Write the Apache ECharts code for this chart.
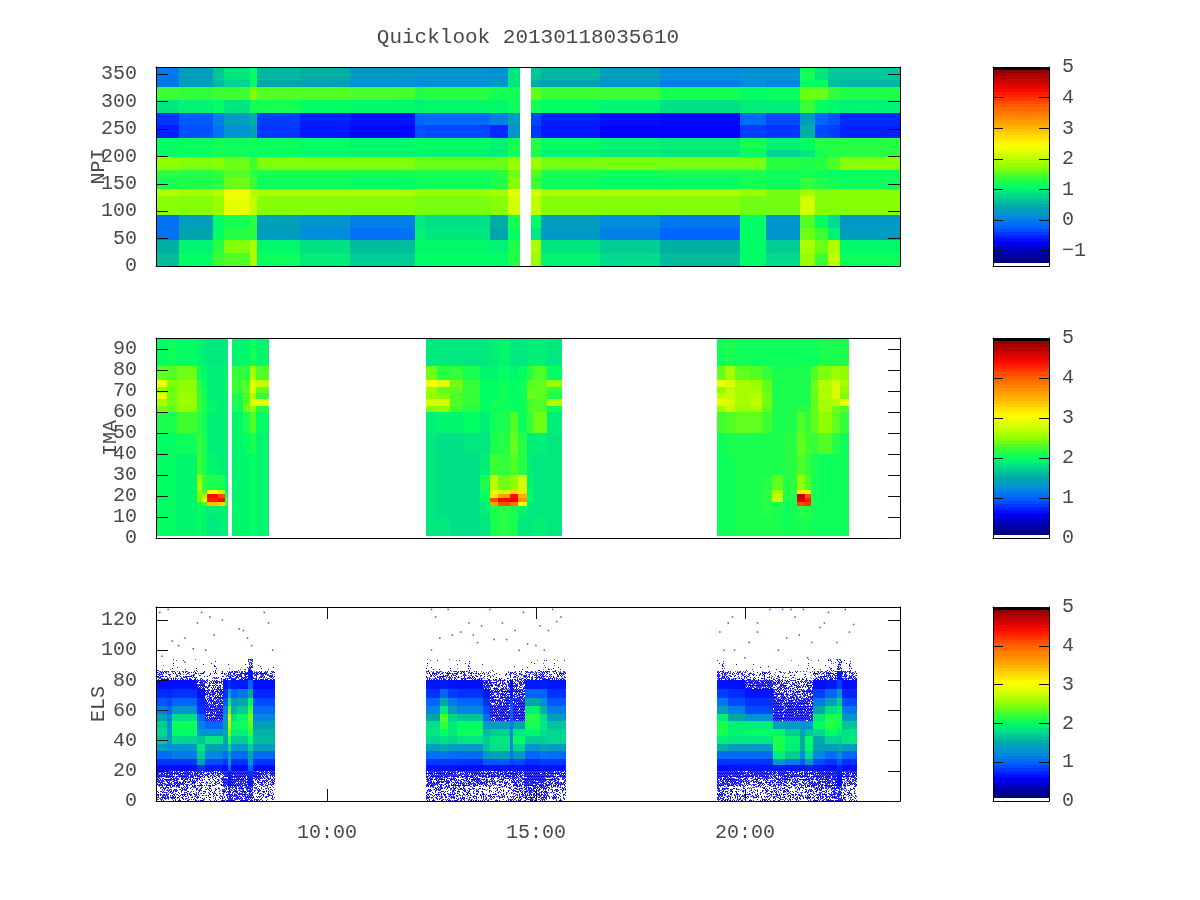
<!DOCTYPE html>
<html><head><meta charset="utf-8"><style>html,body{margin:0;background:#fff}#c{width:1200px;height:900px}</style>
<script src="https://cdn.jsdelivr.net/npm/echarts@6/dist/echarts.min.js"></script></head><body><div id="c"></div>
<script>
const titleText = 'Quicklook 20130118035610';
const timeTicks = [10, 15, 20];
const npiTicks = [0,50,100,150,200,250,300,350];
const imaTicks = [0,10,20,30,40,50,60,70,80,90];
const elsTicks = [0,20,40,60,80,100,120];
const barTicks1 = [-1,0,1,2,3,4,5];
const barTicks = [0,1,2,3,4,5];
const timeRange = [5.91, 23.71];

// NPI: time windows (hours), band edges, values by band bottom to top
const npiWindows = [[5.91,6.46,7.27,7.54,8.16,8.33,9.35,10.55,12.11,12.34,13.90,14.33,14.62],[14.88,15.12,16.53,17.97,19.88,20.50,21.32,21.67,21.99,22.27,23.71]];
const npiEdges = [0,24,47,70,93,128,140,163,175,199,211,234,257,279,303,326,339,363];
const npiValues = [
[.6,1.1,1.4,1.5,1.9,1.15,.95,.7,1.1,1.1,1.1,1.3,1.8,1.0,.8,.6,1.1,.8,1.8,1.4,2.0,1.15],
[.5,1.0,1.3,1.7,1.9,1.05,.85,.6,1.05,1.05,1.0,1.25,1.9,.9,.7,.5,1.1,.7,1.9,1.6,1.9,1.05],
[-.1,.4,1.1,1.3,1.3,.3,.1,-.1,1.0,.9,.4,1.1,.9,.25,.0,-.2,1.1,.2,1.6,1.4,1.0,.3],
[-.1,.3,1.1,1.2,1.3,.35,.2,.0,.95,.85,.5,1.2,1.1,.3,.1,-.05,1.1,.2,1.5,1.1,.8,.25],
[1.72,1.7,1.8,2.3,2.05,1.7,1.7,1.7,1.65,1.65,1.7,2.15,2.0,1.7,1.7,1.7,1.62,1.62,2.15,1.7,1.7,1.7],
[1.95,1.85,1.95,2.35,1.95,1.9,1.9,1.9,1.8,1.8,1.85,2.25,2.15,1.9,1.9,1.9,1.8,1.65,1.85,1.7,1.72,1.72],
[1.2,1.25,1.3,1.6,1.4,1.15,1.15,1.1,1.15,1.15,1.25,1.7,1.4,1.15,1.1,1.1,1.2,1.15,1.35,1.25,1.2,1.15],
[1.35,1.3,1.35,1.5,1.3,1.25,1.25,1.25,1.25,1.25,1.3,1.6,1.5,1.25,1.2,1.25,1.25,1.15,1.2,1.15,1.1,1.15],
[1.75,1.68,1.72,1.6,1.4,1.68,1.68,1.68,1.6,1.6,1.6,1.8,1.8,1.65,1.65,1.65,1.65,1.3,1.25,1.3,1.5,1.72],
[1.1,1.1,1.2,1.2,1.1,1.1,1.05,1.0,1.05,1.0,.95,1.2,1.2,1.0,.95,.9,1.1,.75,.9,1.2,1.3,1.3],
[1.1,1.15,1.2,1.15,1.2,1.15,1.1,1.05,1.1,1.1,1.0,1.2,1.3,1.1,1.0,.95,1.2,1.0,1.1,1.3,1.3,1.3],
[-.55,-.3,-.1,.2,.4,-.45,-.6,-.68,-.3,-.35,-.5,.2,-.45,-.6,-.72,-.72,-.4,-.45,.5,-.35,-.4,-.55],
[-.45,-.25,.0,.3,.5,-.4,-.55,-.62,-.2,-.15,.0,.3,-.35,-.55,-.65,-.68,-.15,-.35,.3,-.2,-.3,-.5],
[.9,1.0,1.1,.9,1.2,1.2,1.1,1.05,1.0,1.05,1.05,1.15,1.2,1.1,1.0,.85,.95,.95,1.4,1.1,1.05,1.0],
[1.4,1.35,1.4,1.4,1.7,1.5,1.5,1.45,1.25,1.3,1.2,1.2,1.55,1.4,1.4,1.2,1.1,1.15,1.6,1.6,1.35,1.25],
[-.05,.3,.6,.75,1.1,.45,.35,.15,.1,.15,.25,.9,.5,.4,.2,.0,.1,.05,1.1,1.1,.6,.55],
[-.05,.3,.65,.9,1.1,.55,.5,.25,.2,.2,.15,.9,.65,.55,.3,.1,.15,.15,1.2,.9,.65,.65]
];

// IMA
const imaWindows = [[5.91,6.17,6.41,6.89,7.01,7.13,7.39,7.56,7.63],[7.73,7.99,8.16,8.30,8.61],[12.37,12.63,12.94,13.25,13.66,13.90,14.09,14.38,14.57,14.78,14.93,15.26,15.62],[19.33,19.52,19.76,20.12,20.41,20.65,20.91,21.24,21.44,21.58,21.75,22.08,22.27,22.49]];
const imaEdges = [0.8,10,15,17,19,21,23,30,40,50,60,63,66,69,72,75,82,95.2];
const imaValues = [
[2.0,2.0,1.95,2.0,1.95,1.85,1.9,1.95, 1.95,1.95,2.0,1.95, 1.85,1.85,1.8,1.8,1.85,2.1,2.15,2.1,1.85,1.85,1.9,1.85, 2.05,2.05,2.1,2.1,2.1,2.1,2.05,2.1,2.1,2.05,2.05,2.05,2.05],
[2.0,2.0,1.95,2.0,1.95,1.9,1.9,1.95, 1.95,1.95,2.0,1.95, 1.85,1.8,1.8,1.8,1.9,2.1,2.15,2.1,1.95,1.85,1.85,1.85, 2.05,2.05,2.1,2.1,2.15,2.1,2.05,2.15,2.15,2.05,2.05,2.05,2.05],
[2.0,2.0,1.95,2.1,2.2,3.4,3.3,2.2, 1.95,1.95,2.0,1.95, 1.85,1.8,1.8,1.8,1.9,3.6,4.1,3.9,3.1,1.9,1.85,1.85, 2.05,2.05,2.1,2.1,2.15,2.1,2.05,4.1,4.2,2.1,2.05,2.05,2.05],
[2.0,2.0,1.95,2.4,2.9,4.3,4.4,2.2, 1.95,1.95,2.0,1.95, 1.85,1.8,1.8,1.8,2.0,4.1,4.4,4.5,3.7,2.0,1.85,1.85, 2.05,2.05,2.1,2.1,2.2,2.75,2.1,4.6,4.3,2.1,2.05,2.05,2.05],
[2.0,2.0,1.95,2.5,2.6,4.4,4.1,2.1, 1.95,1.95,2.0,1.95, 1.85,1.8,1.8,1.8,2.0,3.2,3.6,4.4,3.5,2.0,1.85,1.85, 2.05,2.05,2.1,2.1,2.2,2.7,2.1,4.7,4.1,2.1,2.05,2.05,2.05],
[2.0,2.0,1.95,2.5,2.3,3.0,2.7,2.0, 1.95,1.95,2.0,1.95, 1.85,1.8,1.8,1.8,2.05,2.9,2.8,3.3,3.2,1.95,1.85,1.85, 2.05,2.05,2.1,2.1,2.2,2.6,2.15,3.2,2.9,2.1,2.05,2.05,2.05],
[2.0,2.0,1.95,2.6,2.2,2.1,2.1,1.95, 1.95,1.95,2.0,1.95, 1.85,1.8,1.8,1.8,2.1,2.7,2.4,2.5,2.8,1.95,1.85,1.85, 2.05,2.05,2.1,2.1,2.15,2.35,2.15,2.5,2.3,2.1,2.05,2.05,2.05],
[2.0,2.0,1.95,2.25,2.1,1.95,1.9,1.9, 1.95,1.95,2.0,1.95, 1.85,1.8,1.8,1.8,1.9,2.25,2.2,2.3,2.15,1.9,1.85,1.85, 2.05,2.05,2.1,2.1,2.1,2.1,2.15,2.3,2.2,2.1,2.05,2.05,2.05],
[2.0,2.0,2.05,2.2,2.1,1.9,1.9,1.95, 1.95,2.0,2.1,1.95, 1.85,1.8,1.8,1.85,1.85,2.1,2.15,2.35,2.15,1.9,1.9,1.85, 2.05,2.1,2.1,2.1,2.1,2.1,2.15,2.35,2.25,2.2,2.3,2.15,2.05],
[2.1,2.1,2.25,2.15,2.05,1.9,1.9,1.95, 1.95,2.1,2.3,2.0, 1.9,1.95,1.95,2.0,1.9,2.05,2.1,2.3,2.05,2.2,2.4,1.9, 2.25,2.3,2.35,2.35,2.25,2.1,2.1,2.3,2.2,2.35,2.5,2.35,2.2],
[2.4,2.35,2.5,2.2,2.1,1.95,1.9,1.95, 2.05,2.4,2.5,2.15, 2.45,2.5,2.25,2.15,2.0,2.05,2.05,2.05,2.05,2.3,2.3,2.05, 2.55,2.75,2.55,2.6,2.35,2.1,2.1,2.15,2.15,2.35,2.6,2.4,2.3],
[2.6,2.4,2.55,2.2,2.1,1.95,1.9,1.95, 2.1,2.3,2.85,2.9, 2.8,2.8,2.3,2.2,2.0,2.05,2.05,2.0,2.05,2.25,2.3,2.65, 2.9,2.8,2.6,2.7,2.4,2.1,2.1,2.1,2.1,2.35,2.6,2.65,2.95],
[2.95,2.4,2.55,2.2,2.05,1.9,1.9,1.95, 2.1,2.3,2.65,2.2, 2.5,2.45,2.3,2.2,2.0,2.0,2.05,2.0,2.05,2.4,2.35,2.1, 2.7,2.75,2.6,2.65,2.4,2.1,2.1,2.1,2.1,2.35,2.65,2.85,2.45],
[2.5,2.4,2.5,2.2,2.05,1.9,1.9,1.95, 2.2,2.35,2.85,2.35, 2.55,2.35,2.35,2.2,2.0,2.0,2.05,2.0,2.05,2.35,2.35,2.2, 2.5,2.7,2.6,2.6,2.35,2.1,2.1,2.1,2.1,2.4,2.6,2.85,2.5],
[2.95,2.45,2.5,2.15,2.0,1.9,1.9,1.95, 2.25,2.3,2.9,2.75, 2.95,2.85,2.4,2.2,2.0,2.0,2.05,2.0,2.05,2.3,2.35,2.55, 2.95,2.85,2.6,2.55,2.35,2.1,2.1,2.1,2.1,2.4,2.65,2.8,2.6],
[2.35,2.3,2.4,2.05,1.95,1.9,1.9,1.95, 2.2,2.15,2.6,2.3, 2.4,2.15,2.2,2.1,1.95,1.95,2.0,1.95,2.0,2.15,2.3,2.0, 2.35,2.6,2.35,2.3,2.2,2.1,2.1,2.1,2.1,2.3,2.45,2.55,2.5],
[2.0,2.05,2.0,1.95,1.9,1.85,1.85,1.9, 1.95,1.95,2.05,1.95, 1.85,1.85,1.85,1.85,1.85,1.9,1.95,1.85,1.85,1.9,1.9,1.85, 2.05,2.1,2.05,2.05,2.05,2.05,2.05,2.05,2.05,2.05,2.1,2.1,2.1]
];

// ELS: positive = colour value; negative = fraction of the cell covered by scattered faint counts
const elsWindows = [[5.91,6.17,6.29,6.89,7.08,7.51,7.63,7.70,7.85,8.11,8.23,8.76],[12.37,12.70,12.89,13.11,13.73,13.90,14.38,14.45,14.74,15.10,15.26,15.72],[19.33,19.59,20.00,20.67,20.96,21.32,21.44,21.63,21.91,22.20,22.32,22.68]];
const elsEdges = [0,10,16,20,24,28,33,38,43,48,53,58,63,68,74,80,86,94];
const elsValues = [
[-.45,-.45,-.4,-.3,-.25,-.6,-.8,-.75,-.7,-.85,-.35, -.4,-.45,-.45,-.4,-.4,-.35,-.3,-.5,-.7,-.6,-.35, -.55,-.45,-.35,-.45,-.4,-.3,-.4,-.5,-.6,-.8,-.35],
[-.7,-.7,-.65,-.5,-.4,-.8,.65,-.9,-.85,.7,-.6, -.7,-.7,-.7,-.65,-.6,-.55,-.5,-.7,-.9,-.85,-.6, -.8,-.7,-.6,-.7,-.6,-.5,-.6,-.75,-.85,.65,-.6],
[-.9,-.9,-.85,-.75,-.6,-.95,.7,-.95,-.95,.8,-.85, -.9,-.9,-.9,-.85,-.8,-.8,-.75,-.9,-.95,-.95,-.85, -.95,-.9,-.85,-.9,-.8,-.75,-.8,-.9,-.95,.7,-.85],
[.65,.65,.65,.8,.7,.65,1.0,.65,.65,1.0,.65, .68,.68,.68,.65,.68,.65,.68,.68,.65,.7,.68, .65,.68,.68,.7,.68,.68,.7,.68,.65,.75,.65],
[.8,.8,.8,1.4,.9,.8,1.3,.8,.8,1.3,.8, .82,.82,.82,.8,.95,.95,.85,.9,.78,.82,.82, .8,.8,.8,1.3,1.1,.95,1.3,.9,.8,.95,.78],
[1.05,1.05,1.15,1.7,1.2,1.05,1.5,1.05,1.05,1.5,1.05, 1.05,1.1,1.05,1.05,1.35,1.45,1.05,1.4,1.0,1.1,1.05, 1.05,1.05,1.05,1.9,1.7,1.2,1.8,1.2,1.05,1.2,1.0],
[1.4,1.25,1.3,1.85,1.45,1.35,1.8,1.3,1.35,1.7,1.4, 1.4,1.5,1.4,1.35,1.65,1.8,1.2,1.75,1.3,1.45,1.4, 1.55,1.4,1.35,2.1,1.9,1.5,1.95,1.4,1.4,1.5,1.4],
[1.65,1.4,1.75,1.65,1.85,1.5,2.2,1.7,1.7,2.0,1.6, 1.75,1.8,1.75,1.85,1.7,1.85,1.2,2.0,1.7,1.7,1.75, 1.9,1.85,1.85,2.1,1.95,1.5,2.0,1.5,1.75,1.7,1.85],
[1.75,1.35,2.0,1.3,1.3,1.5,2.5,1.9,1.9,2.2,1.55, 1.85,2.0,1.85,2.05,1.6,1.7,1.15,1.85,1.95,1.8,1.75, 2.1,1.95,2.0,1.95,1.7,1.4,1.65,1.75,2.0,1.9,1.8],
[1.7,1.25,2.05,1.15,1.0,1.45,2.8,2.0,2.05,2.35,1.45, 1.8,2.2,1.85,2.0,1.35,1.35,1.1,1.45,2.1,1.85,1.65, 2.1,1.9,1.9,1.4,1.35,1.25,1.3,2.0,2.15,2.05,1.65],
[1.45,1.15,1.8,1.0,-.92,1.3,3.0,1.8,2.0,2.45,1.2, 1.5,2.3,1.75,1.65,1.05,-.95,1.0,-.95,2.15,1.8,1.4, 1.9,1.5,1.25,-.95,-.95,-.95,-.95,1.85,2.1,2.1,1.35],
[1.15,1.0,1.3,.8,-.9,1.15,2.4,1.55,1.7,2.25,1.05, 1.2,1.85,1.4,1.2,.9,-.92,1.0,-.92,1.9,1.55,1.15, 1.4,1.15,.9,-.92,-.92,-.92,-.92,1.5,1.8,1.95,1.1],
[.95,.9,1.0,.75,-.8,.95,1.9,1.3,1.45,1.95,.9, 1.0,1.5,1.1,1.0,.8,-.8,.9,-.8,1.45,1.25,.95, 1.1,.9,.8,-.8,-.75,-.8,-.75,1.1,1.4,1.7,.9],
[.78,.75,.8,.65,-.65,.8,1.4,1.0,1.1,1.5,.75, .8,1.0,.85,.8,.7,-.75,.7,-.75,1.0,1.0,.8, .85,.78,.68,-.65,-.6,-.65,-.65,.85,1.0,1.3,.75],
[.65,.65,.65,-.8,-.5,.68,.8,.7,.7,1.0,.65, .68,.7,.68,.65,-.85,-.6,.65,-.6,.7,.72,.68, .68,.65,-.9,-.55,-.5,-.5,-.55,.65,.7,.85,.65],
[-.55,-.5,-.4,-.2,-.15,-.4,-.7,-.65,-.65,.7,-.55, -.55,-.5,-.5,-.4,-.3,-.2,-.3,-.4,-.6,-.7,-.55, -.55,-.45,-.35,-.25,-.2,-.15,-.2,-.5,-.6,.7,-.5],
[-.03,-.02,-.02,-.01,-.01,-.02,-.04,-.04,-.05,-.6,-.03, -.03,-.02,-.02,-.02,-.01,-.01,-.02,-.02,-.04,-.05,-.03, -.03,-.02,-.02,-.01,-.01,-.01,-.01,-.03,-.1,-.5,-.03]
];
const elsDots = [[6.3,106],[6.45,103],[6.6,108],[6.9,118],[7.0,125],[7.2,122],[7.5,120],[7.9,114],[8.0,113],[8.1,108],[8.2,103],[8.6,118],[8.5,125],[6.0,125],[6.2,127],[6.8,101],[7.1,100],[6.05,96],[6.6,92],[8.7,100],[7.3,110],
[12.5,127],[12.6,122],[12.7,108],[13.0,110],[13.2,112],[13.4,118],[13.5,110],[13.6,105],[13.7,116],[14.0,107],[14.2,118],[14.3,107],[14.5,113],[14.6,100],[14.8,104],[15.0,103],[15.1,116],[15.2,100],[15.3,113],[15.5,119],[12.5,100],[12.9,127],[13.9,127],[14.7,125],[15.4,127],[15.6,122],
[19.4,112],[19.5,100],[19.7,122],[19.75,100],[20,95],[20.1,105],[20.3,112],[20.3,118],[20.6,127],[20.8,100],[21.0,108],[21.2,122],[21.3,110],[21.5,95],[21.6,105],[21.8,115],[21.9,118],[22.0,125],[22.2,105],[22.5,112],[22.6,117],[19.6,118],[21.1,127],[20.9,127],[21.4,127],[22.4,127]];

const paletteStops = [[0,'#000070'],[.05,'#000098'],[.12,'#0000ff'],[.2,'#0064ff'],[.25,'#0090d8'],[.3,'#00a8a8'],[.35,'#00d890'],[.4,'#00ff64'],[.45,'#40ff30'],[.5,'#90ff00'],[.55,'#c8ff00'],[.61,'#ffff00'],[.7,'#ffb000'],[.8,'#ff6000'],[.88,'#ff0800'],[.98,'#900000'],[.985,'#000000'],[1,'#000000']];
function colorAt(f){
  f=Math.max(0,Math.min(1,f));
  for(let i=1;i<paletteStops.length;i++){
    if(f<=paletteStops[i][0]){
      const a=paletteStops[i-1],b=paletteStops[i];
      return echarts.color.lerp((f-a[0])/(b[0]-a[0]),[a[1],b[1]]);
    }
  }
  return '#000000';
}
// dither texture used as the fill style for sparsely covered cells
const textures={};
function speckle(c){
  const key=Math.round(c*100);
  if(textures[key])return textures[key];
  const cv=document.createElement('canvas');cv.width=cv.height=127;
  const ctx=cv.getContext('2d');
  const thr=key/100;
  for(let y=0;y<127;y++)for(let x=0;x<127;x++){
    let h=(Math.imul(x+1,73856093)^Math.imul(y+1,19349663))>>>0;
    h=Math.imul(h^(h>>>13),1274126177)>>>0;
    if(((h>>>10)&1023)/1023<thr){ctx.fillStyle='rgba(0,0,235,'+(x%2===y%3?0.65:0.95)+')';ctx.fillRect(x,y,1,1);}
  }
  textures[key]={image:cv,repeat:'repeat'};
  return textures[key];
}
const fontFam='"Liberation Mono",monospace', textCol='#4a4a4a', fontSz=20;
const panels=[
 {top:67,h:199,name:'NPI',gap:47,ymax:363,ticks:npiTicks,win:npiWindows,edges:npiEdges,vals:npiValues,cmin:-1.5,bticks:barTicks1,xlab:false},
 {top:338,h:200,name:'IMA',gap:35,ymax:95.2,ticks:imaTicks,win:imaWindows,edges:imaEdges,vals:imaValues,cmin:0,bticks:barTicks,xlab:false},
 {top:607,h:194,name:'ELS',gap:47,ymax:128.6,ticks:elsTicks,win:elsWindows,edges:elsEdges,vals:elsValues,cmin:0,bticks:barTicks,xlab:true}
];
function cellData(p){
  const out=[];
  p.vals.forEach((row,r)=>{
    let c=0;
    p.win.forEach(w=>{
      for(let i=0;i<w.length-1;i++){
        out.push([w[i],w[i+1],p.edges[r],p.edges[r+1],row[c++]]);
      }
    });
  });
  return out;
}
const lineS={show:true,onZero:false,lineStyle:{color:'#000',width:1}};
const tickS=(vals,len)=>({show:true,inside:true,length:len,customValues:vals,lineStyle:{color:'#111',width:1}});
const labS=(vals,margin,fmt,pad)=>({show:true,customValues:vals,margin,fontFamily:fontFam,fontSize:fontSz,color:textCol,formatter:fmt,hideOverlap:false,padding:pad||0});
const grid=[],xAxis=[],yAxis=[],series=[];
function rectItem(cmin,cmax,alphaRule){
  return function(params,api){
    const v=api.value(4);
    const a=api.coord([api.value(0),api.value(3)]), b=api.coord([api.value(1),api.value(2)]);
    const fill=(v<0&&alphaRule)?speckle(-v):colorAt((v-cmin)/(cmax-cmin));
    const x0=Math.round(a[0]),y0=Math.round(a[1]);
    return {type:'rect',shape:{x:x0,y:y0,width:Math.round(b[0])-x0,height:Math.round(b[1])-y0},style:{fill},silent:true};
  };
}
panels.forEach((p,i)=>{
  const g=grid.length;
  grid.push({left:156,top:p.top,width:744,height:p.h,containLabel:false});
  const xa=xAxis.length, ya=yAxis.length;
  xAxis.push({type:'value',gridIndex:g,position:'bottom',min:timeRange[0],max:timeRange[1],z:5,axisLine:lineS,splitLine:{show:false},
    axisTick:p.xlab?tickS(timeTicks,12):{show:false},
    axisLabel:p.xlab?labS(timeTicks,22,v=>v+':00'):{show:false}});
  xAxis.push({type:'value',gridIndex:g,position:'top',min:timeRange[0],max:timeRange[1],z:5,axisLine:lineS,splitLine:{show:false},
    axisTick:p.xlab?tickS(timeTicks,12):{show:false},axisLabel:{show:false}});
  yAxis.push({type:'value',gridIndex:g,position:'left',min:0,max:p.ymax,z:5,axisLine:lineS,splitLine:{show:false},
    axisTick:tickS(p.ticks,12),axisLabel:labS(p.ticks,19,v=>String(v),[6,0,0,0]),
    name:p.name,nameLocation:'middle',nameGap:p.gap,nameRotate:90,nameMoveOverlap:false,nameTextStyle:{fontFamily:fontFam,fontSize:fontSz,color:textCol}});
  yAxis.push({type:'value',gridIndex:g,position:'right',min:0,max:p.ymax,z:5,axisLine:lineS,splitLine:{show:false},
    axisTick:tickS(p.ticks,12),axisLabel:{show:false}});
  series.push({type:'custom',name:p.name,xAxisIndex:xa,yAxisIndex:ya,clip:true,animation:false,silent:true,
    renderItem:rectItem(p.cmin,5,p.name==='ELS'),encode:{x:[0,1],y:[2,3]},data:cellData(p)});
  if(p.name==='ELS'){
    series.push({type:'scatter',name:'ELS counts',xAxisIndex:xa,yAxisIndex:ya,symbol:'rect',symbolSize:1.5,silent:true,animation:false,
      itemStyle:{color:'#2020e0'},data:elsDots});
  }
  const gb=grid.length;
  grid.push({left:993,top:p.top,width:56,height:p.h});
  const bx=xAxis.length, by=yAxis.length;
  xAxis.push({type:'value',gridIndex:gb,position:'bottom',min:0,max:1,z:5,axisLine:lineS,axisTick:{show:false},axisLabel:{show:false},splitLine:{show:false}});
  xAxis.push({type:'value',gridIndex:gb,position:'top',min:0,max:1,z:5,axisLine:lineS,axisTick:{show:false},axisLabel:{show:false},splitLine:{show:false}});
  yAxis.push({type:'value',gridIndex:gb,position:'left',min:p.cmin,max:5,z:5,axisLine:lineS,axisTick:tickS(p.bticks,10),axisLabel:{show:false},splitLine:{show:false}});
  yAxis.push({type:'value',gridIndex:gb,position:'right',min:p.cmin,max:5,z:5,axisLine:lineS,axisTick:tickS(p.bticks,10),
    axisLabel:labS(p.bticks,13,v=>v<0?'\u2212'+(-v):String(v),[6,0,0,0]),splitLine:{show:false}});
  const steps=64, lv=[], d=(5-p.cmin)/steps;
  for(let k=1;k<steps;k++){ lv.push([0,1,p.cmin+k*d,p.cmin+(k+1)*d,p.cmin+(k+0.5)*d]); }
  series.push({type:'custom',name:p.name+' scale',xAxisIndex:bx,yAxisIndex:by,clip:true,animation:false,silent:true,
    renderItem:rectItem(p.cmin,5,false),encode:{x:[0,1],y:[2,3]},data:lv});
});
const chart=echarts.init(document.getElementById('c'),null,{renderer:'canvas'});
chart.setOption({animation:false,backgroundColor:'#fff',
  title:{text:titleText,left:523,top:22,textAlign:'center',textStyle:{fontFamily:fontFam,fontSize:21,fontWeight:'normal',color:textCol}},
  grid,xAxis,yAxis,series});
</script></body></html>
